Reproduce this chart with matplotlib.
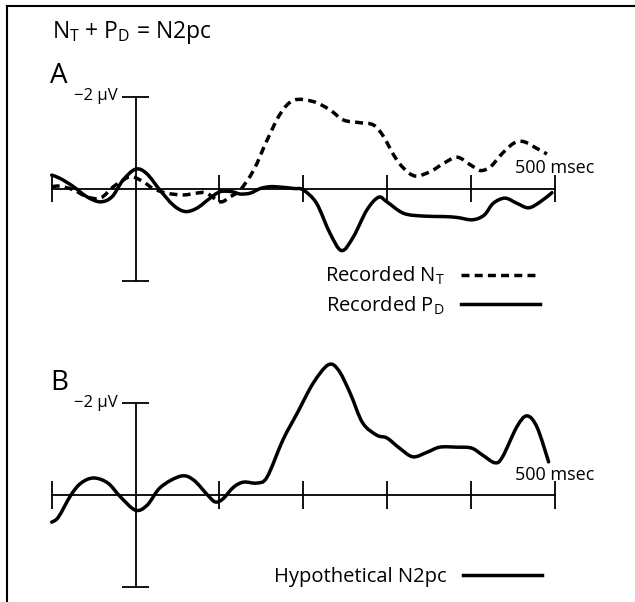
import matplotlib.pyplot as plt
from matplotlib.path import Path
from matplotlib.patches import PathPatch
from matplotlib.lines import Line2D

plt.rcParams['font.family'] = ['Open Sans', 'DejaVu Sans']
plt.rcParams['mathtext.fontset'] = 'custom'
plt.rcParams['mathtext.rm'] = 'Open Sans'
plt.rcParams['mathtext.it'] = 'Open Sans:italic'

# time in msec, amplitude in microvolts (negative is plotted up)
tick_ms = [-100, 0, 100, 200, 300, 400, 500]
bar_uv = 2

nt_ms = [-100, -90, -74, -58, -42, -27, -15, -5, 9, 21, 37, 57, 73, 85, 101, 113,
         125, 141, 157, 173, 189, 212, 232, 248, 268, 284, 296, 308, 320, 334, 352,
         368, 384, 400, 412, 424, 436, 451, 463, 479, 491]
nt_uv = [-0.04, -0.05, 0.03, 0.18, 0.21, -0.03, -0.18, -0.26, -0.15, 0.0, 0.10, 0.14,
         0.10, 0.10, 0.29, 0.18, 0.03, -0.40, -1.05, -1.63, -1.92, -1.89, -1.71, -1.49,
         -1.43, -1.38, -1.13, -0.73, -0.44, -0.27, -0.37, -0.55, -0.68, -0.51, -0.39,
         -0.48, -0.73, -0.98, -1.02, -0.87, -0.75]

pd_ms = [-100, -90, -74, -58, -42, -28, -15, 0, 13, 29, 45, 59, 73, 89, 101, 115, 125,
         137, 149, 161, 173, 189, 200, 216, 232, 246, 260, 276, 290, 300, 320, 344, 368,
         384, 402, 416, 427, 441, 455, 469, 483, 497]
pd_uv = [-0.29, -0.22, -0.04, 0.18, 0.29, 0.18, -0.18, -0.42, -0.33, 0.03, 0.36, 0.50,
         0.43, 0.21, 0.07, 0.07, 0.12, 0.10, 0.0, -0.04, -0.03, 0.0, 0.03, 0.32, 0.97,
         1.35, 1.05, 0.47, 0.19, 0.29, 0.54, 0.60, 0.61, 0.63, 0.68, 0.58, 0.32, 0.21,
         0.32, 0.42, 0.29, 0.09]

n2pc_ms = [-100, -92, -77, -65, -50, -33, -18, 0, 14, 30, 54, 69, 86, 95, 104, 117,
           129, 145, 157, 176, 193, 212, 230, 242, 256, 271, 288, 300, 315, 331, 348,
           363, 383, 401, 414, 429, 438, 455, 467, 479, 493]
n2pc_uv = [0.59, 0.48, 0.0, -0.26, -0.37, -0.26, 0.04, 0.33, 0.22, -0.17, -0.41, -0.33,
           0.0, 0.15, 0.09, -0.17, -0.28, -0.26, -0.39, -1.20, -1.78, -2.43, -2.83,
           -2.72, -2.22, -1.57, -1.30, -1.24, -1.02, -0.83, -0.93, -1.04, -1.04, -1.02,
           -0.87, -0.70, -0.83, -1.48, -1.72, -1.48, -0.72]

W, H = 635, 602
fig = plt.figure(figsize=(W / 100, H / 100), dpi=100)


def fx(px):
    return px / W


def fy(py):
    return 1 - py / H


def smooth(ts, vs):
    # catmull-rom curve through the read points, drawn as bezier segments
    pts = list(zip(ts, vs))
    n = len(pts)
    verts = [pts[0]]
    codes = [Path.MOVETO]
    for i in range(n - 1):
        p0 = pts[max(i - 1, 0)]
        p1 = pts[i]
        p2 = pts[i + 1]
        p3 = pts[min(i + 2, n - 1)]
        c1 = (p1[0] + (p2[0] - p0[0]) / 6, p1[1] + (p2[1] - p0[1]) / 6)
        c2 = (p2[0] - (p3[0] - p1[0]) / 6, p2[1] - (p3[1] - p1[1]) / 6)
        verts += [c1, c2, p2]
        codes += [Path.CURVE4] * 3
    return Path(verts, codes)


# pixel mapping: x = 135.5 + 0.838 * t, 46 px per microvolt
xlim = (-135.5 / 0.838, (W - 135.5) / 0.838)
axA = fig.add_axes([0, fy(330), 1, 290 / H])
axA.set_xlim(xlim)
axA.set_ylim((330 - 188.5) / 46, (40 - 188.5) / 46)
axB = fig.add_axes([0, 0, 1, 262 / H])
axB.set_xlim(xlim)
axB.set_ylim((602 - 495) / 46, (340 - 495) / 46)

tick_h = 0.3
cap_w = 16.7
for ax in (axA, axB):
    ax.axis('off')
    ax.patch.set_alpha(0)
    ax.plot([tick_ms[0], tick_ms[-1]], [0, 0], color='black', lw=1.3, zorder=1)
    ax.vlines([t for t in tick_ms if t != 0], -tick_h, tick_h, color='black', lw=1.3, zorder=1)
    ax.plot([0, 0], [-bar_uv, bar_uv], color='black', lw=1.3, zorder=1)
    ax.hlines([-bar_uv, bar_uv], -cap_w, cap_w, color='black', lw=1.3, zorder=1)
    ax.annotate('\u22122 \u03bcV', xy=(-cap_w, -bar_uv), xytext=(-3, 0),
                textcoords='offset points', ha='right', va='center', fontsize=12)
    ax.annotate('500 msec', xy=(tick_ms[-1], 0), xytext=(0, 11),
                textcoords='offset points', ha='center', va='baseline', fontsize=13)

dash = (0, (2.3, 1.5))
axA.add_patch(PathPatch(smooth(nt_ms, nt_uv), fill=False, lw=2.5, linestyle=dash,
                        zorder=3))
axA.add_patch(PathPatch(smooth(pd_ms, pd_uv), fill=False, lw=2.5, zorder=3,
                        joinstyle='round', capstyle='round'))
axB.add_patch(PathPatch(smooth(n2pc_ms, n2pc_uv), fill=False, lw=2.5, zorder=3,
                        joinstyle='round', capstyle='round'))

h_nt = Line2D([], [], color='black', lw=2.5, linestyle=dash)
h_pd = Line2D([], [], color='black', lw=2.5)
h_n2 = Line2D([], [], color='black', lw=2.5)

axA.legend([h_nt, h_pd], ['Recorded N$_\\mathrm{T}$', 'Recorded P$_\\mathrm{D}$'],
           markerfirst=False, frameon=False, loc='upper right',
           bbox_to_anchor=(fx(540), fy(265)), bbox_transform=fig.transFigure,
           fontsize=14.5, handlelength=3.9, handletextpad=0.85, labelspacing=0.35,
           borderpad=0, borderaxespad=0)
axB.legend([h_n2], ['Hypothetical N2pc'], markerfirst=False, frameon=False,
           loc='upper right', bbox_to_anchor=(fx(542), fy(567)),
           bbox_transform=fig.transFigure, fontsize=14.5, handlelength=3.9,
           handletextpad=0.85, borderpad=0, borderaxespad=0)

fig.text(fx(52), fy(38), 'N$_\\mathrm{T}$ + P$_\\mathrm{D}$ = N2pc', fontsize=16.5,
         va='baseline')
fig.text(fx(50), fy(83), 'A', fontsize=20, va='baseline')
fig.text(fx(50), fy(390), 'B', fontsize=20, va='baseline')

# frame on the left and top
fig.add_artist(Line2D([fx(6.5), fx(6.5)], [0, fy(5.5)], color='black', lw=1.5))
fig.add_artist(Line2D([fx(6.5), 1], [fy(5.5), fy(5.5)], color='black', lw=1.5))

fig.savefig('out.png', dpi=100)
